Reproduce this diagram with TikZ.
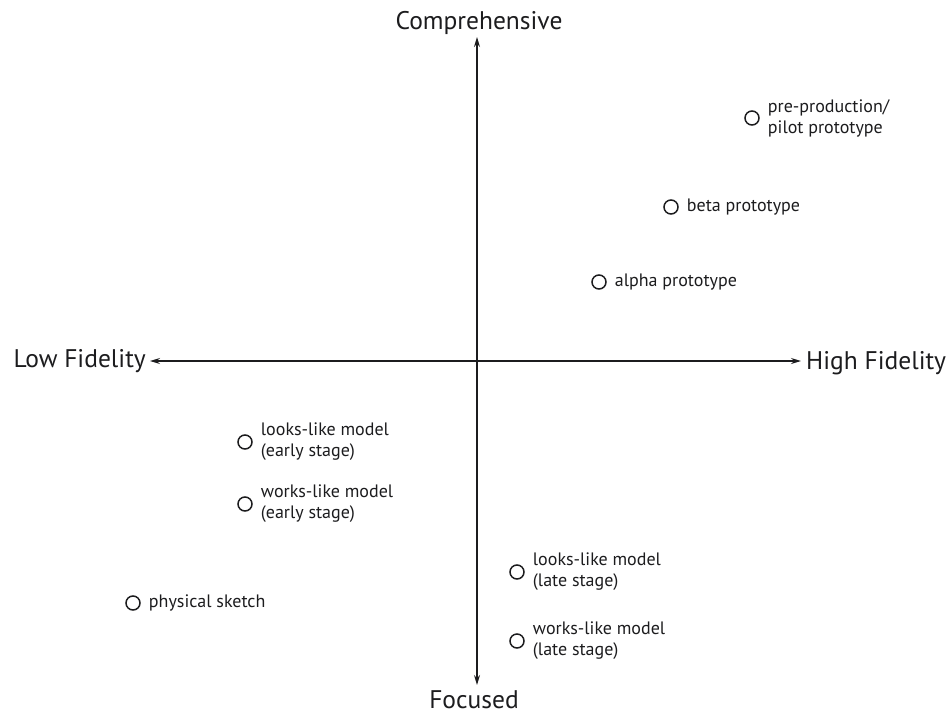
\documentclass[tikz,border=0pt]{standalone}
\usepackage{fontspec}
\setmainfont{PT Sans}
\usetikzlibrary{arrows.meta}
\definecolor{ink}{HTML}{1C1C1E}
\tikzset{
  axis/.style={draw=ink, line width=1.2pt, {Stealth[length=10pt,width=6pt]}-{Stealth[length=10pt,width=6pt]}},
  axislabel/.style={text=ink, font=\fontsize{25.5}{30}\selectfont, inner sep=0pt},
  dot/.style={circle, draw=ink, line width=1.5pt, minimum size=14pt, inner sep=0pt},
  tag/.style={text=ink, font=\fontsize{18}{21}\selectfont, align=left, anchor=west, inner sep=0pt, xshift=8pt}
}
\begin{document}
\begin{tikzpicture}[x=1pt, y=-1pt]
  \useasboundingbox (0,0) rectangle (950,715);

  % axis labels
  \node[axislabel] (comp) at (479,23) {Comprehensive};
  \node[axislabel] (foc) at (474,700) {Focused};
  \node[axislabel, anchor=east] (low) at (146,361) {Low Fidelity};
  \node[axislabel, anchor=west] (high) at (806,363) {High Fidelity};

  % axis ends
  \coordinate (ytop) at (477,37);
  \coordinate (ybot) at (477,685);
  \coordinate (xleft) at (150,361);
  \coordinate (xright) at (801,361);
  \draw[axis] (ytop) -- (ybot);
  \draw[axis] (xleft) -- (xright);

  % prototypes, from comprehensive to focused
  \node[dot] (pre) at (752,118) {};
  \node[tag] (preT) at (pre.east) {pre-production/\\pilot prototype};
  \node[dot] (beta) at (671,207) {};
  \node[tag] (betaT) at (beta.east) {beta prototype};
  \node[dot] (alpha) at (599,282) {};
  \node[tag] (alphaT) at (alpha.east) {alpha prototype};

  \node[dot] (lookE) at (245,442) {};
  \node[tag] (lookET) at (lookE.east) {looks-like model\\(early stage)};
  \node[dot] (workE) at (245,504) {};
  \node[tag] (workET) at (workE.east) {works-like model\\(early stage)};

  \node[dot] (lookL) at (517,572) {};
  \node[tag] (lookLT) at (lookL.east) {looks-like model\\(late stage)};
  \node[dot] (workL) at (517,641) {};
  \node[tag] (workLT) at (workL.east) {works-like model\\(late stage)};

  \node[dot] (sketch) at (133,603) {};
  \node[tag] (sketchT) at (sketch.east) {physical sketch};
\end{tikzpicture}
\end{document}
